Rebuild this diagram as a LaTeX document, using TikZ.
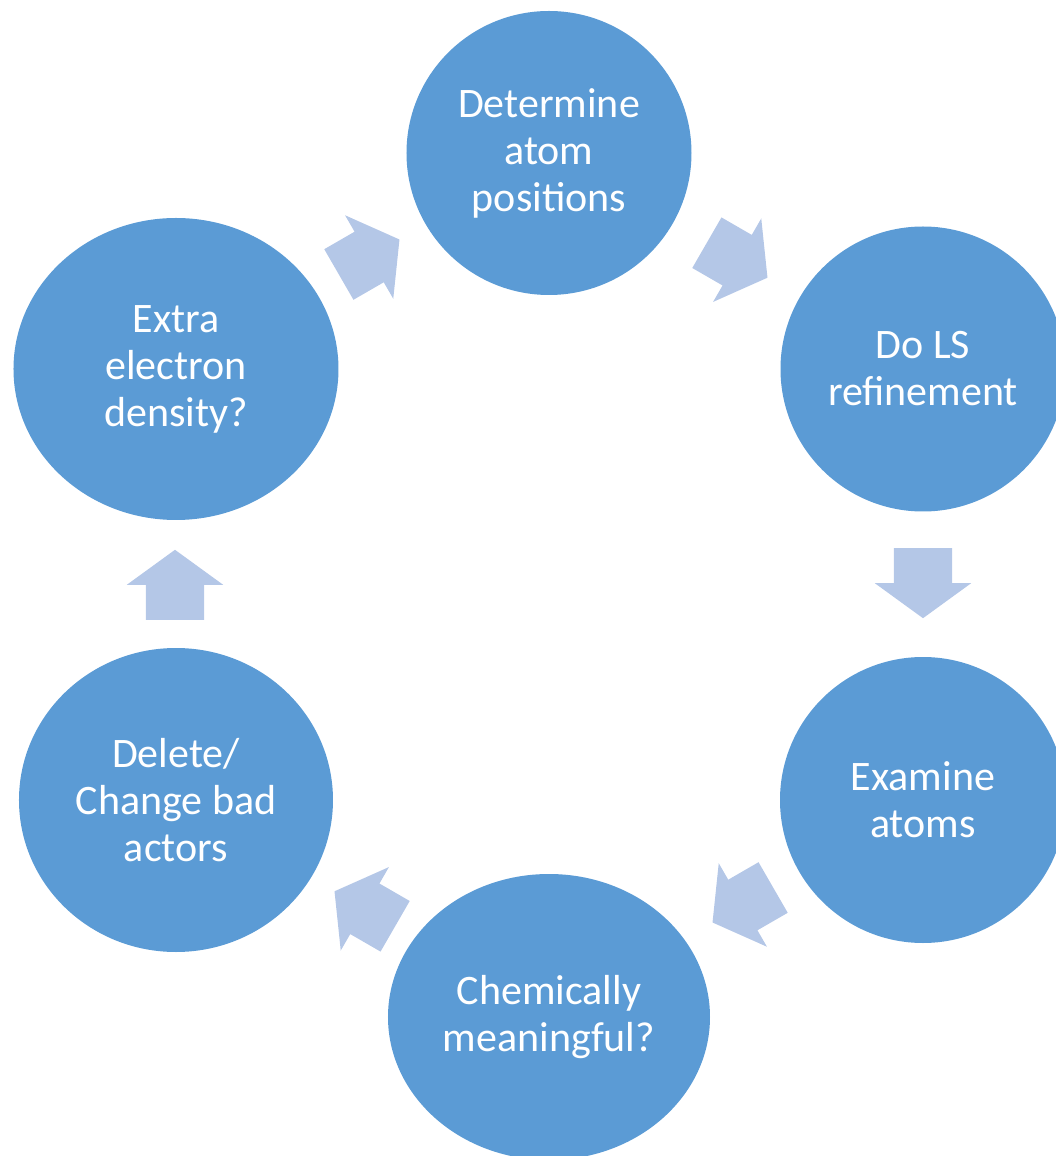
\documentclass[tikz,border=0pt]{standalone}
\usepackage{fontspec}
\setmainfont{Carlito}
\usepackage{xcolor}
\usepackage{tikz}
\usetikzlibrary{shapes.geometric,shapes.arrows,calc}
\definecolor{stagefill}{HTML}{5B9BD5}
\definecolor{arrfill}{HTML}{B4C7E7}

\begin{document}
\begin{tikzpicture}[x=1pt, y=1pt, stage/.style={ellipse, fill=stagefill, text=white, inner sep=0pt, align=center, font=\fontsize{42}{47}\selectfont}, arr/.style={single arrow, fill=arrfill, inner xsep=0pt, inner ysep=29pt, minimum height=70pt, single arrow head extend=19pt, single arrow tip angle=108, anchor=tail}]
\useasboundingbox (-549,-571) rectangle (507,585);
\clip (-549,-571) rectangle (507,585);
\node[stage, minimum width=285pt, minimum height=284pt] (det) at (0,432) {Determine\\atom\\positions};
\node[stage, minimum width=285pt, minimum height=285pt] (ls) at (374,216) {Do LS\\refinement};
\node[stage, minimum width=286pt, minimum height=286pt] (exam) at (374,-215) {Examine\\atoms};
\node[stage, minimum width=322pt, minimum height=286pt] (chem) at (0,-432) {Chemically\\meaningful?};
\node[stage, minimum width=314pt, minimum height=304pt] (del) at (-373,-215) {Delete/\\Change bad\\actors};
\node[stage, minimum width=325pt, minimum height=302pt] (extra) at (-373,216) {Extra\\electron\\density?};
% block arrows between the stages, tail at half length behind the mid point
\node[arr, rotate=-30] (det-ls) at ($(60:374)+(150:35)+(1,1)$) {};
\node[arr, rotate=-90] (ls-exam) at ($(0:374)+(90:35)+(0,2)$) {};
\node[arr, rotate=-150] (exam-chem) at ($(-60:374)+(30:35)+(7,4)$) {};
\node[arr, rotate=150] (chem-del) at ($(-120:374)+(-30:35)+(3,0)$) {};
\node[arr, rotate=90] (del-extra) at ($(180:374)+(270:35)$) {};
\node[arr, rotate=30] (extra-det) at ($(120:374)+(210:35)+(7,4)$) {};
\end{tikzpicture}
\end{document}
